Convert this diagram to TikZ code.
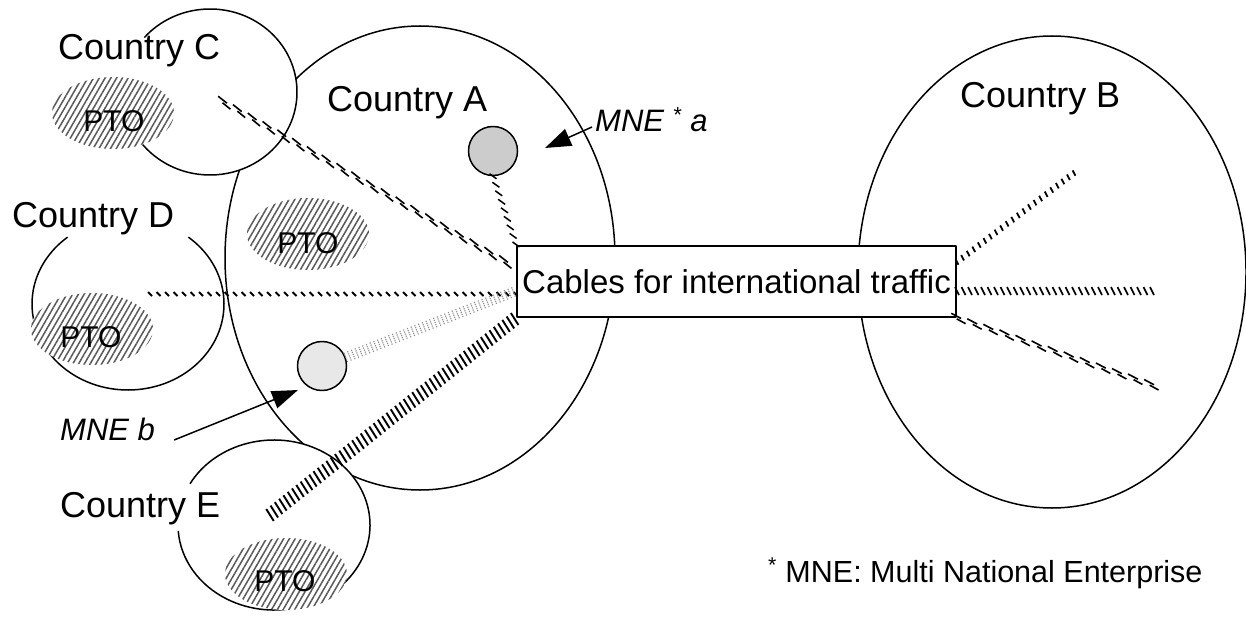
\documentclass[tikz,border=0pt]{standalone}
\usepackage{fontspec}
\setmainfont{Liberation Sans}
\usetikzlibrary{arrows.meta,decorations.markings,patterns.meta}
\begin{document}
\begin{tikzpicture}[x=1pt,y=-1pt,line join=round,
  outline/.style={line width=1.5pt},
  ptofill/.style={pattern={Lines[angle=60,distance=5pt,line width=1.5pt]},pattern color=black!65},
  lbl/.style={font=\fontsize{36}{40}\selectfont,inner sep=0pt,anchor=base west},
  mnelbl/.style={font=\fontsize{31}{36}\selectfont\itshape,inner sep=0pt,anchor=base west},
  ptotext/.style={font=\fontsize{30}{34}\selectfont,inner sep=0pt},
  mne/.style={circle,draw,line width=1.5pt,minimum size=49pt,inner sep=0pt},
  pointer/.style={line width=1.5pt,-{Triangle[length=26pt,width=18pt]}},
  cabdouble/.style={postaction={decorate},decoration={markings,
    mark=between positions 0 and 1 step 17pt with {
      \draw[line width=1.6pt] (-7pt,2.6pt)--(4pt,0.9pt);
      \draw[line width=1.6pt] (0pt,-0.9pt)--(10pt,-2.6pt);}}},
  cabslant/.style={postaction={decorate},decoration={markings,
    mark=between positions 0 and 1 step 9pt with {
      \draw[line width=1.5pt] (-3.5pt,-2.5pt)--(3.5pt,2.5pt);}}},
  cabshort/.style={postaction={decorate},decoration={markings,
    mark=between positions 0 and 1 step 8.5pt with {
      \draw[line width=1.8pt] (-2pt,2pt)--(2pt,-2pt);}}},
  cabdense/.style={postaction={decorate},decoration={markings,
    mark=between positions 0 and 1 step 6.5pt with {
      \draw[line width=1.6pt] (-2pt,4pt)--(2pt,-4pt);}}},
  cabtick/.style={postaction={decorate},decoration={markings,
    mark=between positions 0 and 1 step 7pt with {
      \draw[line width=1.8pt] (-0.5pt,-3pt)--(0.5pt,3pt);}}},
  cabrail/.style={postaction={decorate},decoration={markings,
    mark=between positions 0 and 1 step 5.5pt with {
      \draw[line width=1.9pt] (-0.8pt,-7pt)--(0.8pt,7pt);}}},
  cabdots/.style={postaction={decorate},decoration={markings,
    mark=between positions 0 and 1 step 4pt with {
      \draw[line width=1.1pt,black!45,dash pattern=on 1.2pt off 1pt] (0pt,-5pt)--(0pt,5pt);}}}
]
\useasboundingbox (0,0) rectangle (1246,620);

% Country A and B
\draw[outline] (420,258) ellipse[x radius=195, y radius=232];
\draw[outline] (1052,272) ellipse[x radius=194, y radius=236];

% white backgrounds of C and E (hide A inside them)
\fill[white] (210,92) ellipse[x radius=87, y radius=83];
\fill[white] (274,525) ellipse[x radius=96, y radius=85];

% Country C, D, E outlines (open where labels sit)
\draw[outline] (210,92) ++(-139:87 and 83) arc[start angle=-139,end angle=142,x radius=87,y radius=83];
\draw[outline] (128,304) ++(-51:96 and 86) arc[start angle=-51,end angle=231,x radius=96,y radius=86];
\draw[outline] (274,525) ++(-151:96 and 85) arc[start angle=-151,end angle=176,x radius=96,y radius=85];

% PTO areas
\foreach \cx/\cy in {113/113, 308/234, 92/329, 286/574}{
  \fill[white] (\cx,\cy) ellipse[x radius=61, y radius=36];
  \fill[ptofill] (\cx,\cy) ellipse[x radius=61, y radius=36];
}
\node[ptotext] (ptoC) at (114,121) {PTO};
\node[ptotext] (ptoA) at (308,243) {PTO};
\node[ptotext] (ptoD) at (91,337) {PTO};
\node[ptotext] (ptoE) at (285,581) {PTO};

% cable box
\node[draw,line width=1.5pt,fill=white,minimum width=439pt,minimum height=71pt,inner sep=0pt,
      font=\fontsize{33}{37}\selectfont] (box) at (736.5,281.5) {Cables for international traffic};

% MNE circles
\node[mne,fill=gray!40] (mneA) at (493,151) {};
\node[mne,fill=gray!18] (mneB) at (322,366) {};

% cable ends
\coordinate (cC) at (223,102);
\coordinate (cD) at (150,294);
\coordinate (cE) at (270,515);
\coordinate (bl1) at (516,268);
\coordinate (bl3) at (516,294);
\coordinate (bl4) at (516,291);
\coordinate (br1) at (957,262);
\coordinate (br2) at (957,291);
\coordinate (br3) at (957,318);
\coordinate (eB1) at (1078,170);
\coordinate (eB2) at (1155,291);
\coordinate (eB3) at (1152,385);

\path[cabdouble] (cC) -- (bl1);
\path[cabslant] (mneA.south) -- (box.north west);
\path[cabshort] (cD) -- (bl3);
\path[cabdots] (mneB.20) -- (bl4);
\path[cabrail] (cE) -- (box.south west);
\path[cabtick] (br1) -- (eB1);
\path[cabdense] (br2) -- (eB2);
\path[cabdouble] (br3) -- (eB3);

% labels
\node[lbl] (labC) at (58,60) {Country C};
\node[lbl] (labA) at (327,112) {Country A};
\node[lbl] (labB) at (960,108) {Country B};
\node[lbl] (labD) at (12,228) {Country D};
\node[lbl] (labE) at (60,517) {Country E};
\node[mnelbl] (labMA) at (595,132) {MNE \textsuperscript{*} a};
\node[mnelbl] (labMB) at (60,440) {MNE b};
\node[inner sep=0pt,anchor=base west,font=\fontsize{30.5}{34}\selectfont] (foot) at (768,582) {\textsuperscript{*} MNE: Multi National Enterprise};

% pointers
\coordinate (tipA) at (545,148);
\coordinate (tipB) at (298,390);
\draw[pointer] ([xshift=-3pt,yshift=5pt]labMA.base west) -- (tipA);
\draw[pointer] ([xshift=19pt]labMB.base east) -- (tipB);
\end{tikzpicture}
\end{document}
